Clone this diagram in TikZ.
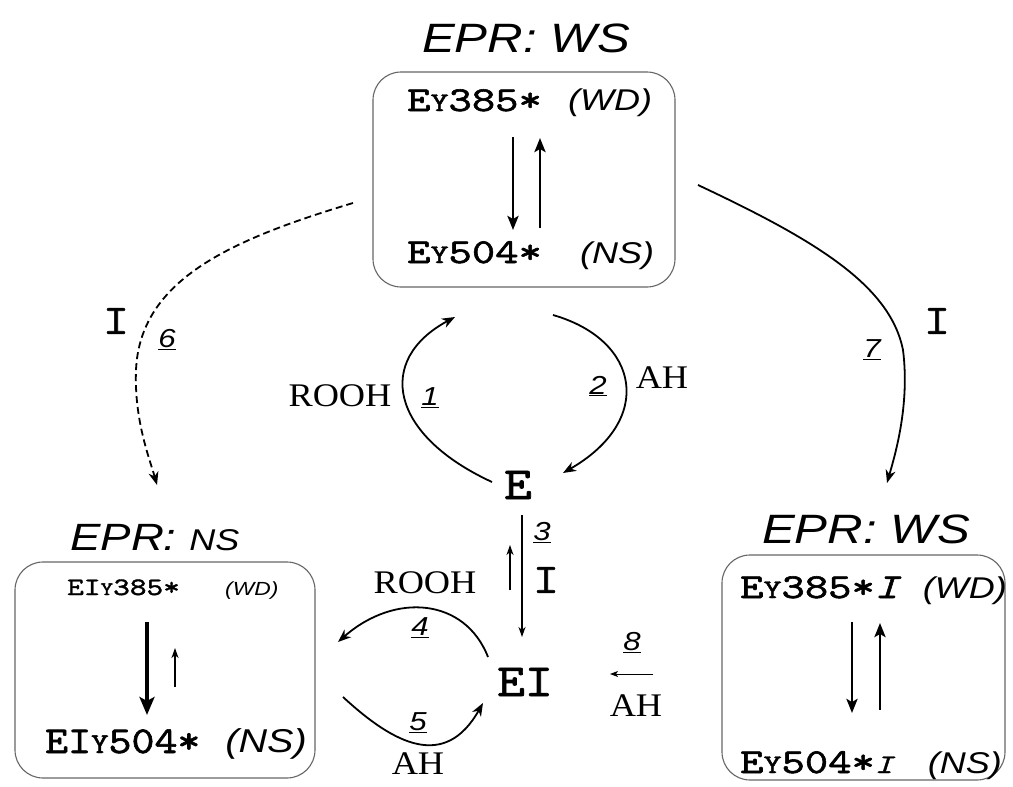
\documentclass[tikz,border=0pt]{standalone}
\usepackage{fontspec}
\setmainfont{Liberation Serif}[FakeStretch=1.1]
\newfontfamily\monof{lmmono10-regular}[Extension=.otf, ItalicFont=lmmono10-italic, FakeStretch=1.15, FakeBold=1.6]
\newfontfamily\monow{lmmono10-regular}[Extension=.otf, ItalicFont=lmmono10-italic, FakeStretch=1.27, FakeBold=1.6]
\newfontfamily\sansf{Liberation Sans}[FakeStretch=1.2]
\usetikzlibrary{arrows.meta}
\newcommand\fs[1]{\fontsize{#1}{#1}\selectfont}
\newcommand\smY[1]{{\fontsize{#1}{#1}\selectfont Y}}
\newcommand\rnum[1]{{\sansf\itshape\fs{26}\underline{#1}}}
\begin{document}
\begin{tikzpicture}[x=1pt,y=-1pt,
  box/.style={draw=black!60, line width=1.1pt, rounded corners=28pt},
  txt/.style={inner sep=0pt, anchor=base west},
  txte/.style={inner sep=0pt, anchor=base east},
  lbl/.style={inner sep=0pt, anchor=center},
  conn/.style={line width=1.8pt, -{Stealth[length=13pt,width=10pt,inset=4pt]}},
  thin/.style={line width=1.3pt, -{Stealth[length=10pt,width=7pt,inset=3pt]}},
  boxarrow/.style={line width=2.8pt, -{Stealth[length=14pt,width=11pt,inset=3pt]}},
  fatarrow/.style={line width=4.5pt, -{Stealth[length=18pt,width=15pt,inset=4pt]}},
  title/.style={inner sep=0pt, anchor=base, font=\sansf\itshape\fs{41}}]
\useasboundingbox[fill=white] (0,0) rectangle (1013,787);

% boxes
\node[box, minimum width=302pt, minimum height=215pt] (topbox) at (524,179.5) {};
\node[box, minimum width=300pt, minimum height=216pt] (leftbox) at (165,670) {};
\node[box, minimum width=283pt, minimum height=225pt] (rightbox) at (863.5,667.5) {};

% titles
\node[title] (ttop) at (526,52) {EPR: WS};
\node[title] (tright) at (866,543) {EPR: WS};
\node[txt] (tleft) at (70,550) {\sansf\itshape\fs{38}EPR: \fs{30}NS};

% top box contents
\node[txt] (a385) at (407,111) {\monow\fs{35}E\smY{27}385*};
\node[txt] (awd) at (568,110) {\sansf\itshape\fs{30}(WD)};
\node[txt] (a504) at (407,263) {\monow\fs{35}E\smY{27}504*};
\node[txt] (ans) at (580,263) {\sansf\itshape\fs{30}(NS)};
\draw[boxarrow] (513,137) -- (513,230);
\draw[boxarrow] (540,228) -- (540,138);

% left box contents
\node[txt] (b385) at (67,595) {\monow\fs{25}EI\smY{19}385*};
\node[txt] (bwd) at (225,595) {\sansf\itshape\fs{19}(WD)};
\node[txt] (b504) at (45,753) {\monof\fs{38}EI\smY{29}504*};
\node[txte] (bns) at (307,752) {\sansf\itshape\fs{33}(NS)};
\draw[fatarrow] (147,622) -- (147,715);
\draw[thin, line width=1.8pt] (175,687) -- (175,648);

% right box contents
\node[txt] (c385) at (740,598) {\monow\fs{35}E\smY{27}385*\itshape I};
\node[txte] (cwd) at (1007,598) {\sansf\itshape\fs{30}(WD)};
\node[txt] (c504) at (740,773) {\monow\fs{35}E\smY{27}504*\itshape\fs{27}I};
\node[txte] (cns) at (1002,773) {\sansf\itshape\fs{30}(NS)};
\draw[boxarrow] (852,622) -- (852,713);
\draw[boxarrow] (880,710) -- (880,623);

% central species
\node[lbl] (E) at (518,485) {\monof\fs{46}E};
\node[lbl] (EI) at (525,682) {\monof\fs{46}EI};

% connector endpoints
\coordinate (s1) at (492,482);
\coordinate (e1) at (455,317);
\coordinate (s2) at (553,315);
\coordinate (e2) at (563,473);
\coordinate (s3) at (522,515);
\coordinate (e3) at (522,637);
\coordinate (s3b) at (510,590);
\coordinate (e3b) at (510,545);
\coordinate (s4) at (488,657);
\coordinate (e4) at (338,642);
\coordinate (s5) at (343,697);
\coordinate (e5) at (483,703);
\coordinate (s8) at (653,674);
\coordinate (e8) at (610,674);
\coordinate (s6) at (353,203);
\coordinate (e6) at (157,485);
\coordinate (s7) at (698,185);
\coordinate (e7) at (887,483);

% step 1 and 2
\draw[conn] (s1) .. controls (390,435) and (375,360) .. (e1);
\draw[conn] (s2) .. controls (640,340) and (655,420) .. (e2);
% step 3
\draw[thin] (s3) -- (e3);
\draw[thin] (s3b) -- (e3b);
% step 4 and 5
\draw[conn] (s4) .. controls (465,598) and (395,592) .. (e4);
\draw[conn] (s5) .. controls (395,745) and (445,770) .. (e5);
% step 8
\draw[thin, line width=1pt, -{Stealth[length=8pt,width=6pt,inset=2pt]}] (s8) -- (e8);
% step 6 (dashed)
\draw[conn, dashed, dash pattern=on 7pt off 4pt] (s6) .. controls (230,240) and (140,280) .. (136,370) .. controls (134,420) and (150,460) .. (e6);
% step 7
\draw[conn] (s7) .. controls (815,240) and (890,285) .. (903,350) .. controls (910,405) and (895,455) .. (e7);

% labels
\node[lbl] (rooh1) at (340,396) {\fs{33}ROOH};
\node[lbl] (n1) at (430,398) {\rnum{1}};
\node[lbl] (n2) at (598,386) {\rnum{2}};
\node[lbl] (ah2) at (662,378) {\fs{33}AH};
\node[lbl] (n3) at (542,533) {\rnum{3}};
\node[lbl] (i3) at (546,580) {\monof\fs{42}I};
\node[lbl] (rooh4) at (425,583) {\fs{33}ROOH};
\node[lbl] (n4) at (420,628) {\rnum{4}};
\node[lbl] (n5) at (418,723) {\rnum{5}};
\node[lbl] (ah5) at (418,764) {\fs{33}AH};
\node[lbl] (n8) at (632,643) {\rnum{8}};
\node[lbl] (ah8) at (636,706) {\fs{33}AH};
\node[lbl] (i6) at (116,321) {\monof\fs{42}I};
\node[lbl] (n6) at (167,340) {\rnum{6}};
\node[lbl] (i7) at (937,321) {\monof\fs{42}I};
\node[lbl] (n7) at (872,350) {\rnum{7}};
\end{tikzpicture}
\end{document}
